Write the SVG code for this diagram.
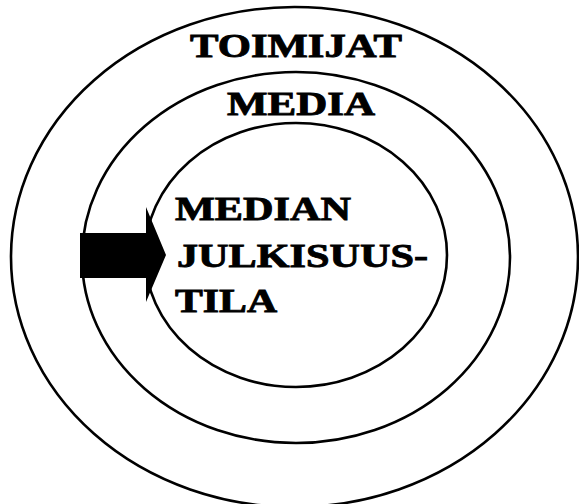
<svg xmlns="http://www.w3.org/2000/svg" width="579" height="504" viewBox="0 0 579 504">
<style>
.ring{fill:none;stroke:#000;stroke-width:2.6}
.lbl{font-family:"Liberation Serif","Times New Roman",serif;font-weight:bold;font-size:34px;fill:#000;stroke:#000;stroke-width:0.9}
</style>
<rect width="579" height="504" fill="#fff"/>
<g id="toimijat">
<ellipse class="ring" cx="294.5" cy="257" rx="283.5" ry="250"/>
<text class="lbl" x="190" y="57" textLength="212" lengthAdjust="spacingAndGlyphs">TOIMIJAT</text>
</g>
<g id="media">
<ellipse class="ring" cx="296" cy="257.5" rx="214" ry="185.5"/>
<text class="lbl" x="227" y="115" textLength="148" lengthAdjust="spacingAndGlyphs">MEDIA</text>
</g>
<g id="median-julkisuustila">
<ellipse class="ring" cx="296" cy="255" rx="151" ry="132"/>
<text class="lbl" x="175" y="220" textLength="176" lengthAdjust="spacingAndGlyphs">MEDIAN</text>
<text class="lbl" x="177" y="267" textLength="251" lengthAdjust="spacingAndGlyphs">JULKISUUS-</text>
<text class="lbl" x="175" y="312" textLength="102" lengthAdjust="spacingAndGlyphs">TILA</text>
</g>
<g id="connectors">
<path d="M80 233 H146 V207 L166 255 L146 302 V278 H80 Z" fill="#000"/>
</g>
</svg>
